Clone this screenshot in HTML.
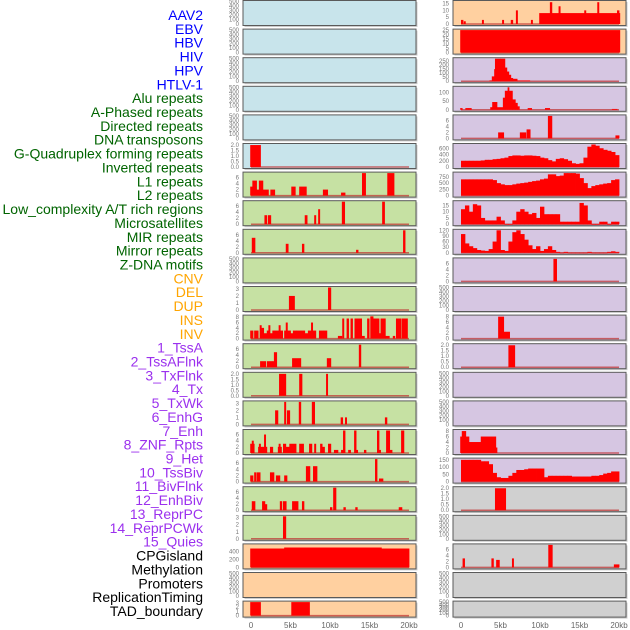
<!DOCTYPE html>
<html><head><meta charset="utf-8">
<style>
html,body{margin:0;padding:0;background:#fff;width:630px;height:630px;overflow:hidden}
svg{display:block}
</style></head>
<body>
<svg id="chart" width="630" height="630" xmlns="http://www.w3.org/2000/svg" font-family="Liberation Sans, sans-serif">
<g id="labels" font-size="14" text-anchor="end"></g>
<g id="panels"></g>
<g id="xaxis" font-size="8" fill="#666" text-anchor="middle"></g>
</svg>
<script>
// ---------- data ----------
const trackLabels = ["AAV2","EBV","HBV","HIV","HPV","HTLV-1","Alu repeats","A-Phased repeats","Directed repeats","DNA transposons","G-Quadruplex forming repeats","Inverted repeats","L1 repeats","L2 repeats","Low_complexity A/T rich regions","Microsatellites","MIR repeats","Mirror repeats","Z-DNA motifs","CNV","DEL","DUP","INS","INV","1_TssA","2_TssAFlnk","3_TxFlnk","4_Tx","5_TxWk","6_EnhG","7_Enh","8_ZNF_Rpts","9_Het","10_TssBiv","11_BivFlnk","12_EnhBiv","13_ReprPC","14_ReprPCWk","15_Quies","CPGisland","Methylation","Promoters","ReplicationTiming","TAD_boundary"];
const labelGroups = ["virus","virus","virus","virus","virus","virus","rep","rep","rep","rep","rep","rep","rep","rep","rep","rep","rep","rep","rep","sv","sv","sv","sv","sv","cs","cs","cs","cs","cs","cs","cs","cs","cs","cs","cs","cs","cs","cs","cs","o","o","o","o","o"];
const xTicks = [0,5,10,15,20];
const xTickLabels = ["0","5kb","10kb","15kb","20kb"];

const leftBg = ["b","b","b","b","b","b","g","g","g","g","g","g","g","g","g","g","g","g","g","p","p","p"];
const rightBg = ["p","p","v","v","v","v","v","v","v","v","v","v","v","v","v","v","v","k","k","k","k","k"];
const leftYmax = [500,500,500,500,500,2.05,7.5,7.5,7.5,500,3.2,8.4,7.5,2.05,3.2,7.3,7.3,7.5,3.2,560,500,3.2];
const rightYmax = [16.5,25,280,130,7.5,720,900,18,120,7.5,500,8.2,2.05,500,500,8.2,155,2.05,500,7.5,500,500];
const T500=[0,100,200,300,400,500], T2=[0,0.5,1,1.5,2], T6=[0,2,4,6], T8=[0,2,4,6,8], T3=[0,1,2,3];
const leftTicks = [T500,T500,T500,T500,T500,T2,T6,T6,T6,T500,T3,T8,T6,T2,T3,T6,T6,T6,T3,[0,200,400],T500,T3];
const rightTicks = [[0,5,10,15],[0,5,10,15,20,25],[0,50,100,150,200,250],[0,50,100],T6,[0,200,400,600],[0,250,500,750],[0,5,10,15],[0,30,60,90,120],T6,T500,T8,T2,T500,T500,T8,[0,50,100,150],T2,T500,T6,T500,T500];

// bars: [startKb, endKb, value]
const L5 = [[-0.1,1.2,2.0]];
const L6 = [[-0.1,0.17,3],[0.17,0.7,5],[0.7,1.0,2],[1.0,1.5,5],[1.5,2.2,2],[2.45,3.0,2],[5.1,5.6,3],[6.1,7.0,3],[9.1,9.7,2],[11.4,11.9,1],[14.05,14.5,7.5],[17.25,18.1,7.5]];
const L7 = [[1.7,2.0,3],[2.15,2.5,3],[6.8,7.1,3],[8.0,8.2,3],[8.5,8.7,5],[11.5,11.85,7.5],[16.6,16.9,7.5]];
const L8 = [[0.1,0.5,5],[4.4,4.7,3],[6.45,6.7,3],[13.3,13.55,1],[19.25,19.5,7.5]];
const L10 = [[4.8,5.5,2],[9.75,10.1,3.2]];
const L11 = [[-0.1,0.25,3],[0.4,0.9,3],[1.1,1.3,5],[1.3,1.6,4],[1.6,2.0,2],[2.0,2.2,3],[2.2,2.4,5],[2.4,2.7,2],[2.7,3.0,3],[3.0,3.5,3],[3.5,3.7,5],[3.7,4.0,3],[4.2,4.4,3],[4.4,4.6,6],[4.6,5.0,3],[5.0,5.3,2],[5.3,5.7,3],[5.7,6.3,3],[6.3,6.8,3],[6.8,7.2,2],[7.2,7.6,3],[7.6,7.8,6],[7.8,8.2,3],[8.6,9.2,3],[9.2,9.6,3],[11.0,11.5,1],[11.55,11.75,7.5],[12.1,12.35,7.5],[12.6,12.85,7.5],[13.1,14.0,7.5],[14.0,14.35,1],[14.7,14.95,7.5],[15.1,15.45,8.3],[15.45,16.2,7.5],[16.2,16.4,2],[16.4,17.0,7.5],[17.0,17.5,1],[17.95,18.2,1],[18.35,19.0,7.5],[19.1,19.8,7.5]];
const L12 = [[1.15,1.85,2],[2.0,2.65,2],[2.65,2.9,2],[2.9,3.25,5],[5.2,6.3,3],[9.6,10.1,3],[13.65,13.9,7.5]];
const L13 = [[3.55,4.4,2],[6.1,6.45,2],[9.5,9.7,2]];
const L14 = [[3.05,3.4,2],[4.2,4.4,3.2],[4.55,4.9,2],[6.05,6.3,3.2],[7.7,8.05,3.2],[11.35,11.6,1],[11.9,12.1,1],[16.95,17.2,1]];
const L15 = [[-0.1,0.4,3],[0.1,0.3,4],[0.9,1.4,2],[1.0,1.2,3],[1.4,1.65,2],[1.65,1.85,6],[1.85,2.0,2],[2.4,2.75,2],[3.4,3.85,2],[3.5,3.7,3],[4.05,4.4,3],[4.4,4.85,2],[4.85,5.7,3],[6.1,6.65,3],[7.35,7.7,3],[8.0,8.2,3],[8.75,9.0,3],[9.0,9.3,2],[9.75,10.1,3],[10.5,11.0,1],[11.4,11.65,1],[11.65,11.9,7.3],[12.3,12.6,1],[13.05,13.3,7.3],[13.3,13.5,1],[14.3,14.55,1],[15.95,16.2,7.3],[16.2,16.4,1],[17.1,17.55,7.3],[17.55,17.85,1],[19.0,19.35,7.3]];
const L16 = [[-0.1,0.25,2],[0.4,0.65,3],[0.75,1.15,3],[2.4,2.9,3],[3.15,3.65,2],[4.2,4.55,2],[6.95,7.45,5],[7.85,8.35,5],[15.7,15.95,7.3],[16.2,16.7,1]];
const L17 = [[0.1,0.5,3],[1.4,1.75,3],[1.75,2.0,2],[3.65,3.9,3],[4.05,4.45,3],[5.2,5.95,3],[6.45,6.7,3],[10.0,10.25,1],[10.4,10.75,7.5],[11.7,11.95,1],[13.2,13.45,1],[18.7,19.1,1]];
const L18 = [[4.05,4.4,3.2]];
const L19 = [[-0.1,4.2,470],[4.2,16.5,495],[16.5,20.0,470]];
const L21 = [[-0.1,1.2,3.2],[5.1,7.4,3.2]];

const R0 = [[0,0.25,3],[0.35,0.55,2],[2.65,2.85,3],[5.2,5.4,3],[6.3,6.55,3],[6.95,7.15,10],[8.85,9.05,3],[9.9,20.1,8],[11.25,11.5,16],[12.35,12.55,13],[15.6,15.8,10],[17.25,17.45,16],[19.75,20.0,10]];
const R1 = [[-0.1,20.1,25]];
const R2 = [[3.6,3.9,10],[3.9,4.2,60],[4.2,4.3,150],[4.3,4.95,280],[4.95,5.55,280],[5.55,5.8,170],[5.8,6.05,120],[6.05,6.3,80],[6.3,6.55,40],[6.55,7.1,30],[7.1,8.7,10]];
const R3 = [[-0.1,0.15,10],[0.55,0.95,10],[0.95,1.3,10],[3.7,3.95,15],[3.95,4.55,45],[4.55,5.3,15],[5.3,5.55,70],[5.55,5.9,110],[5.9,6.07,130],[6.07,6.5,110],[6.5,6.87,60],[6.87,7.13,40],[7.13,7.38,20],[8.44,8.94,10],[10.63,11.22,10],[19.1,19.75,5]];
const R4 = [[4.7,5.4,2],[7.45,8.2,2],[8.3,8.75,3],[11.0,11.5,7.5],[19.55,20.0,1]];
const R5bins = [200,200,200,200,200,210,230,230,250,260,280,300,350,370,370,360,370,370,360,350,300,280,220,180,260,280,250,200,120,100,120,300,650,720,680,600,550,520,480,380];
const R6bins = [650,650,650,650,650,650,650,650,620,500,450,420,420,450,480,500,520,550,580,600,650,680,850,850,780,800,900,900,900,880,700,500,300,380,420,450,480,500,620,650];
const R7bins = [12,15,10,16,15,5,3,3,3,6,3,0,0,3,10,12,10,8,9,5,14,8,8,8,8,2,2,2,2,2,17,15,3,0,0,2,2,0,2,2];
const R8bins = [100,50,35,25,15,12,10,20,60,120,15,10,60,110,120,100,70,40,20,35,10,20,35,15,5,0,5,0,0,0,0,0,5,0,0,0,0,5,8,5];
const R9 = [[11.7,12.1,7.5]];
const R11 = [[4.7,5.4,8],[5.4,6.15,2.5]];
const R12 = [[6.0,6.8,2]];
const R15 = [[-0.1,0.1,6],[0.1,0.6,8],[0.6,1.0,6],[1.0,2.5,4],[2.5,4.4,6],[4.4,4.55,2]];
const R16bins = [150,150,150,150,150,140,140,120,60,30,25,25,40,60,80,80,85,90,90,90,90,30,40,40,40,40,40,40,35,35,35,35,35,40,40,45,55,60,70,70];
const R17 = [[4.3,5.65,2]];
const R19 = [[0.2,0.45,3],[3.85,4.1,3],[4.45,4.85,2.5],[6.45,6.65,3],[11.05,11.55,7.5],[19.35,20.0,1]];

// ---------- helpers ----------
function binsToBars(b){ return b.map((v,i)=>[i*0.5, i*0.5+0.5, v]); }
const leftData = [[],[],[],[],[],L5,L6,L7,L8,[],L10,L11,L12,L13,L14,L15,L16,L17,L18,L19,[],L21];
const rightData = [R0,R1,R2,R3,R4,binsToBars(R5bins),binsToBars(R6bins),binsToBars(R7bins),binsToBars(R8bins),R9,[],R11,R12,[],[],R15,binsToBars(R16bins),R17,[],R19,[],[]];

const NS = "http://www.w3.org/2000/svg";
const bgColors = {b:"#c8e4eb", g:"#c6e1a3", p:"#ffd0a0", v:"#d6c6e2", k:"#d0d0d0"};
const groupColors = {virus:"#0000ff", rep:"#006400", sv:"#ffa500", cs:"#9b30ee", o:"#000000"};
const panelLeftX = [243, 453];
const panelW = 173;
const kbPx = 7.9;
const rowStep = 28.6;
function xScale(side, kb){ return panelLeftX[side] + 8 + kb*kbPx; }
function rowTop(i){ return 0.5 + i*rowStep; }
function rowH(i){ return i===21 ? 16 : 25; }
function yScale(i, ymax, v){ const top=rowTop(i)+1, base=rowTop(i)+rowH(i)-1.5; return base - (v/ymax)*(base-top); }
function mk(tag, attrs, parent){ const e=document.createElementNS(NS,tag); for(const k in attrs) e.setAttribute(k,attrs[k]); parent.appendChild(e); return e; }

// labels
const lg = document.getElementById('labels');
trackLabels.forEach((t,i)=>{
  const e = mk('text',{x:203,y:15+i*13.86+5,fill:groupColors[labelGroups[i]]},lg);
  
  
  e.textContent = t;
});

// panels
const pg = document.getElementById('panels');
[[leftBg,leftYmax,leftTicks,leftData],[rightBg,rightYmax,rightTicks,rightData]].forEach((cfg,side)=>{
  const [bgs,ymaxs,ticks,data] = cfg;
  for(let i=0;i<22;i++){
    const g = mk('g',{},pg);
    
    
    const y0=rowTop(i), h=rowH(i), x0=panelLeftX[side];
    mk('rect',{x:x0+1.5,y:y0+1.5,width:panelW,height:h,fill:"#aaa",opacity:0.6},g);
    mk('rect',{x:x0,y:y0,width:panelW,height:h,fill:bgColors[bgs[i]]},g);
    const bars = data[i];
    if(bars.length){
      const bl = mk('line',{x1:xScale(side,0),x2:xScale(side,20),y1:yScale(i,ymaxs[i],0),y2:yScale(i,ymaxs[i],0),stroke:"#c03030","stroke-width":1.5,opacity:0.7},g);
      
      
    }
    bars.forEach(b=>{
      const xa=xScale(side,b[0]), xb=xScale(side,b[1]);
      const yt=Math.max(yScale(i,ymaxs[i],b[2]), y0+0.5), yb=yScale(i,ymaxs[i],0);
      const r = mk('rect',{x:xa,y:yt,width:Math.max(xb-xa+0.4,1),height:Math.max(yb-yt,0.5),fill:"#ff0000"},g);
      
      
    });
    mk('rect',{x:x0,y:y0,width:panelW,height:h,fill:"none",stroke:"#5a5a5a","stroke-width":1},g);
    const tg = mk('g',{"font-size":6,fill:"#777","text-anchor":"end"},g);
    ticks[i].forEach(t=>{
      const ty = yScale(i,ymaxs[i],t);
      if(ty < y0-3) return;
      const e = mk('text',{x:x0-4,y:ty+2},tg);
      
      
      e.textContent = (ticks[i]===T2) ? t.toFixed(1) : String(t);
    });
  }
});

// x axes
const xg = document.getElementById('xaxis');
[0,1].forEach(side=>{
  xTicks.forEach((t,k)=>{
    const e = mk('text',{x:xScale(side,t),y:628},xg);
    
    
    e.textContent = xTickLabels[k];
  });
});
</script>
</body></html>
